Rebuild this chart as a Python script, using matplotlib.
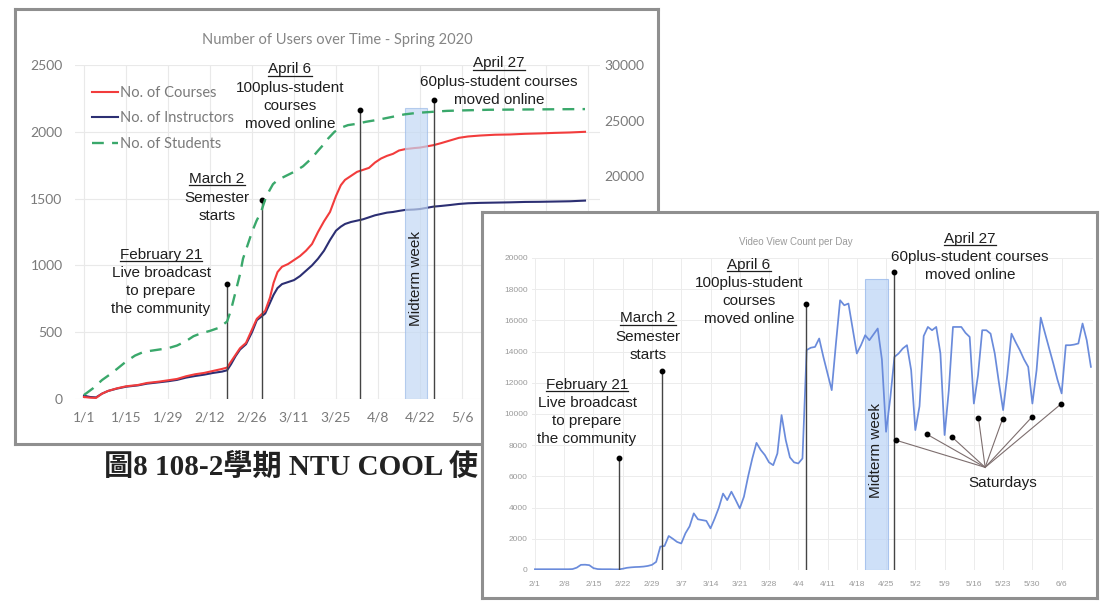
import matplotlib
matplotlib.use("Agg")
import numpy as np
import matplotlib.pyplot as plt
from matplotlib.lines import Line2D

plt.rcParams['font.family'] = ['Lato', 'DejaVu Sans']

# ---- chart 1: Number of Users over Time - Spring 2020 (x = days since 1/1) ----
user_days = [0, 2, 4, 6, 8, 11, 14, 18, 21, 25, 28, 31, 34, 37, 40, 43, 46, 47.7, 49, 50.5,
             52, 54, 56, 57.6, 59, 60.4, 62, 63.2, 64.5, 66, 68, 70, 72, 74, 76, 78, 80, 82, 84, 85.6,
             87, 89, 91, 93, 95, 97, 99, 101, 103, 105, 107, 110, 112, 114, 116.5, 119, 122, 125, 128, 132,
             137, 142, 147, 152, 157, 162, 167]
courses = [15, 10, 8, 40, 60, 80, 95, 105, 120, 130, 140, 150, 170, 185, 195, 210, 225, 235, 280, 330,
           380, 420, 520, 600, 630, 660, 760, 870, 950, 990, 1010, 1040, 1070, 1110, 1160, 1250, 1330, 1400, 1520, 1600,
           1640, 1670, 1700, 1715, 1730, 1770, 1800, 1820, 1835, 1860, 1870, 1878, 1882, 1890, 1900, 1915, 1935, 1955, 1965, 1972,
           1978, 1980, 1985, 1988, 1992, 1995, 2000]
instructors = [25, 15, 12, 40, 60, 78, 92, 102, 115, 125, 133, 143, 160, 172, 182, 195, 205, 215, 260, 320,
               370, 410, 500, 590, 615, 640, 720, 780, 830, 860, 875, 890, 920, 960, 1000, 1050, 1110, 1190, 1260, 1290,
               1310, 1325, 1335, 1345, 1360, 1375, 1385, 1395, 1400, 1408, 1415, 1418, 1422, 1430, 1440, 1445, 1452, 1460, 1465, 1468,
               1470, 1472, 1475, 1476, 1478, 1480, 1485]
student_days = [0, 3, 6, 8.4, 11, 14, 17, 19.6, 22, 25, 28, 31, 34, 36.5, 39, 42, 45, 47.7, 49, 50.5,
                52, 53, 54.5, 56, 57.5, 59, 60.5, 61.8, 63, 64.6, 67, 70, 73, 75.8, 78, 80, 81.4, 83.5, 85.6, 88,
                91, 94, 98, 102, 106.7, 111, 116.5, 121, 126, 135, 145, 155, 167]
students = [360, 960, 1700, 2160, 2700, 3360, 3900, 4200, 4320, 4440, 4560, 4800, 5200, 5640, 5900, 6120, 6400, 6960, 8000, 9600,
            11200, 12600, 13800, 15000, 16000, 16800, 18000, 18720, 19300, 19680, 20000, 20400, 20900, 21600, 22300, 22900, 23400, 24000, 24360, 24600,
            24720, 24900, 25080, 25300, 25560, 25700, 25800, 25880, 25920, 25980, 26000, 26020, 26040]
tick_days1 = [0, 14, 28, 42, 56, 70, 84, 98, 112, 126, 140, 154, 168]
# labels past 5/6 sit under the second chart
tick_labels1 = ['1/1', '1/15', '1/29', '2/12', '2/26', '3/11', '3/25', '4/8', '4/22', '5/6', '', '', '']
right_ticks1 = [20000, 25000, 30000]
events1_day = [47.7, 59.2, 92, 116.5]
events1_dot = [860, 1490, 2160, 2240]
midterm1 = (107, 114.3)

# ---- chart 2: Video View Count per Day (x = days since 2/1) ----
video_views = [50, 50, 50, 50, 50, 50, 50, 50, 50, 60,
               150, 330, 340, 310, 120, 60, 50, 50, 50, 40,
               40, 80, 140, 170, 190, 200, 220, 260, 330, 520,
               1500, 1540, 2180, 2000, 1800, 1700, 2350, 2800, 3630, 3250,
               3200, 3150, 2670, 3300, 4000, 4900, 4480, 5020, 4500, 3950,
               4700, 6000, 7150, 8150, 7700, 7370, 6900, 6720, 7470, 9930,
               8330, 7220, 6900, 6830, 7150, 14100, 14250, 14300, 14840, 13660,
               12600, 11530, 14500, 17290, 16970, 17080, 15480, 13880, 14410, 15050,
               14730, 15100, 15480, 13500, 8860, 11000, 13660, 13880, 14200, 14410,
               12810, 8970, 10500, 15000, 15580, 15370, 15580, 13880, 8650, 11500,
               15580, 15580, 15580, 15200, 14940, 10670, 12500, 15370, 15370, 15150,
               13880, 12000, 10250, 12500, 15150, 14600, 14090, 13500, 13020, 10670,
               12800, 16180, 15200, 14200, 13240, 12200, 11320, 14410, 14410, 14450,
               14520, 15800, 14730, 13020]
tick_days2 = [0, 7, 14, 21, 28, 35, 42, 49, 56, 63, 70, 77, 84, 91, 98, 105, 112, 119, 126]
tick_labels2 = ['2/1', '2/8', '2/15', '2/22', '2/29', '3/7', '3/14', '3/21', '3/28', '4/4', '4/11',
                '4/18', '4/25', '5/2', '5/9', '5/16', '5/23', '5/30', '6/6']
events2_day = [20, 30.5, 64.9, 86]
events2_dot = [7170, 12740, 17030, 19080]
midterm2 = (78.9, 84.4)
saturday_day = [86.3, 93.7, 99.7, 106.1, 111.9, 118.8, 125.8]
saturday_val = [8325, 8710, 8540, 9750, 9710, 9780, 10630]
saturday_hub = (107.7, 6580)

event_text = [['February 21', 'Live broadcast', 'to prepare', 'the community'],
              ['March 2', 'Semester', 'starts'],
              ['April 6', '100plus-student', 'courses', 'moved online'],
              ['April 27', '60plus-student courses', 'moved online']]

W, H = 1100, 601
fig = plt.figure(figsize=(11, 6.01), dpi=100)
fig.patch.set_facecolor('white')


def box(x0, y0, x1, y1):
    return [x0 / W, 1 - y1 / H, (x1 - x0) / W, (y1 - y0) / H]


def panel(x0, y0, x1, y1, z):
    ax = fig.add_axes(box(x0, y0, x1, y1), zorder=z)
    ax.set_xticks([])
    ax.set_yticks([])
    for s in ax.spines.values():
        s.set_color('#8f8f8f')
        s.set_linewidth(2.2)
    return ax


heads = []


def block(xc, y_first, lines, z):
    for i, s in enumerate(lines):
        yb = y_first + 5.5 + i * 18.2
        t = fig.text(xc / W, 1 - yb / H, s, ha='center', va='baseline', fontsize=11,
                     family='Liberation Sans', color='#1e1e1e', zorder=z)
        if i == 0:
            heads.append((t, yb, z))


# ---------------- chart 1 ----------------
panel(15, 9, 658, 444, 0)
ax1 = fig.add_axes(box(75, 65, 600, 399), zorder=1)
ax1.patch.set_alpha(0)
ax1.set_xlim(-3, 172)
ax1.set_ylim(0, 2500)
ax1.set_yticks(range(0, 2501, 500))
ax1.set_xticks(tick_days1, tick_labels1)
ax1.grid(color='#e9e9e9', lw=0.8)
ax1.set_axisbelow(True)
ax1.tick_params(length=0, labelsize=10, labelcolor='#7a7a7a')
ax1.tick_params(axis='y', pad=9)
ax1.tick_params(axis='x', pad=9)
for s in ax1.spines.values():
    s.set_visible(False)
ax1.plot(user_days, instructors, color='#2c2f73', lw=1.5)
ax1.plot(user_days, courses, color='#f23c3c', lw=1.5)
ax1.vlines(events1_day, 0, events1_dot, color='#444444', lw=1)
ax1.plot(events1_day, events1_dot, 'o', color='black', ms=3.2)

ax1r = ax1.twinx()
ax1r.set_zorder(2)
ax1r.set_ylim(0, 30000)
ax1r.set_yticks(right_ticks1)
ax1r.tick_params(length=0, labelsize=10, labelcolor='#7a7a7a', pad=3)
for s in ax1r.spines.values():
    s.set_visible(False)
ax1r.plot(student_days, students, color='#3aa86b', lw=1.7, dashes=(5, 3.5))
ax1r.axvspan(*midterm1, ymax=0.872, facecolor='#c3d8f4', edgecolor='#9dbbe8', lw=0.8, alpha=0.7)

handles = [Line2D([], [], color='#f23c3c', lw=1.5),
           Line2D([], [], color='#2c2f73', lw=1.5),
           Line2D([], [], color='#3aa86b', lw=1.7, dashes=(5, 3.5))]
leg = ax1r.legend(handles, ['No. of Courses', 'No. of Instructors', 'No. of Students'],
                  loc='upper left', bbox_to_anchor=(92 / W, 1 - 86 / H), bbox_transform=fig.transFigure,
                  frameon=False, fontsize=10.5, handlelength=1.8, handletextpad=0.15,
                  labelspacing=0.78, borderpad=0, borderaxespad=0, labelcolor='#7a7a7a')

fig.text(337 / W, 1 - 40 / H, 'Number of Users over Time - Spring 2020', ha='center', va='center',
         fontsize=10.5, color='#858585', zorder=2.5)
for (xc, yf), lines in zip([(161, 253), (217, 178), (290, 68), (499, 62)], event_text):
    block(xc, yf, lines, 2.5)
fig.text(416 / W, 1 - 278 / H, 'Midterm week', rotation=90, ha='center', va='center', fontsize=11,
         family='Liberation Sans', color='#1e1e1e', zorder=2.5)
fig.text(104 / W, 1 - 467 / H, '圖8 108-2學期 NTU COOL 使', ha='left', va='center', fontsize=21,
         weight='bold', family=['Liberation Serif', 'Noto Sans CJK TC'], color='#222222', zorder=2.5)

# ---------------- chart 2 ----------------
panel(482, 212, 1097, 598, 3)
ax2 = fig.add_axes(box(532, 258, 1093, 570), zorder=4)
ax2.patch.set_alpha(0)
ax2.set_xlim(-0.7, 133.5)
ax2.set_ylim(0, 20000)
ax2.set_yticks(range(0, 20001, 2000))
ax2.set_xticks(tick_days2, tick_labels2)
ax2.grid(color='#ececec', lw=0.7)
ax2.set_axisbelow(True)
ax2.tick_params(length=0, labelsize=6, labelcolor='#9a9a9a', labelfontfamily='Liberation Sans')
ax2.tick_params(axis='y', pad=3)
ax2.tick_params(axis='x', pad=8)
for s in ax2.spines.values():
    s.set_visible(False)
ax2.plot(np.arange(len(video_views)), video_views, color='#6a8bdb', lw=1.25)
ax2.axvspan(*midterm2, ymax=18640 / 20000, facecolor='#bcd4f6', edgecolor='#92b4ea', lw=0.8, alpha=0.72)
ax2.vlines(events2_day, 0, events2_dot, color='#444444', lw=1)
ax2.plot(events2_day, events2_dot, 'o', color='black', ms=3.2)
for d, v in zip(saturday_day, saturday_val):
    ax2.plot([d, saturday_hub[0]], [v, saturday_hub[1]], color='#7d6e6e', lw=0.8)
ax2.plot(saturday_day, saturday_val, 'o', color='black', ms=3.2)

fig.text(796 / W, 1 - 242 / H, 'Video View Count per Day', ha='center', va='center', fontsize=7,
         color='#9a9a9a', family='Liberation Sans', zorder=5)
for (xc, yf), lines in zip([(587, 383), (648, 317), (749, 263), (970, 237)], event_text):
    block(xc, yf, lines, 5)
fig.text(876 / W, 1 - 450 / H, 'Midterm week', rotation=90, ha='center', va='center', fontsize=11,
         family='Liberation Sans', color='#1e1e1e', zorder=5)
fig.text(1003 / W, 1 - 483 / H, 'Saturdays', ha='center', va='center', fontsize=11,
         family='Liberation Sans', color='#1e1e1e', zorder=5)

# underline the date headings
fig.canvas.draw()
r = fig.canvas.get_renderer()
for t, yb, z in heads:
    bb = t.get_window_extent(r)
    y = 1 - (yb + 2) / H
    fig.add_artist(Line2D([bb.x0 / W, bb.x1 / W], [y, y], transform=fig.transFigure,
                          color='#1e1e1e', lw=0.9, zorder=z))

fig.savefig('out.png', dpi=100)
